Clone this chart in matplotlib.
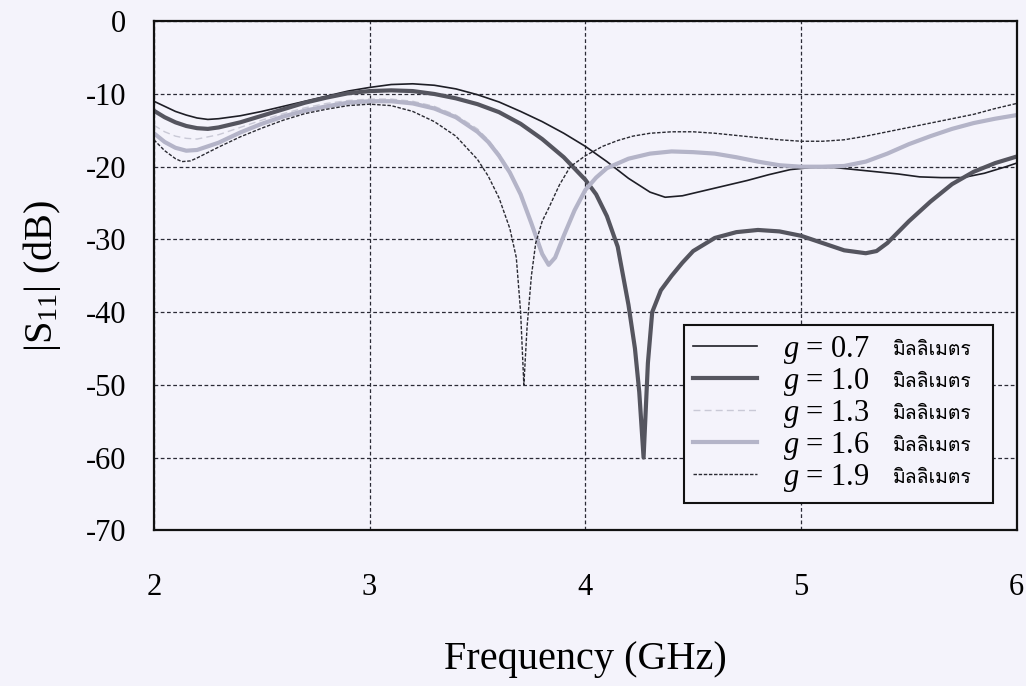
import matplotlib
matplotlib.use('Agg')
import matplotlib.pyplot as plt
from matplotlib import font_manager
from matplotlib.ft2font import FT2Font

# frequency (GHz) / |S11| (dB)
f_07 = [2.0, 2.05, 2.1, 2.15, 2.2, 2.25, 2.3, 2.4, 2.5, 2.6, 2.7, 2.8, 2.9, 3.0, 3.1, 3.2, 3.3, 3.4, 3.5, 3.6,
        3.7, 3.8, 3.9, 4.0, 4.1, 4.2, 4.3, 4.37, 4.45, 4.55, 4.65, 4.75, 4.85, 4.95, 5.05, 5.15, 5.25, 5.35,
        5.45, 5.55, 5.65, 5.75, 5.85, 5.95, 6.0]
s_07 = [-11.0, -11.7, -12.4, -12.9, -13.3, -13.5, -13.4, -13.0, -12.4, -11.7, -11.0, -10.3, -9.6, -9.1, -8.7,
        -8.6, -8.8, -9.3, -10.1, -11.1, -12.4, -13.8, -15.4, -17.2, -19.3, -21.6, -23.5, -24.2, -24.0, -23.3,
        -22.6, -21.9, -21.1, -20.4, -20.1, -20.1, -20.4, -20.7, -21.0, -21.4, -21.5, -21.5, -20.9, -20.0, -19.5]

f_10 = [2.0, 2.05, 2.1, 2.15, 2.2, 2.25, 2.3, 2.4, 2.5, 2.6, 2.7, 2.8, 2.9, 3.0, 3.1, 3.2, 3.3, 3.4, 3.5, 3.6,
        3.7, 3.8, 3.9, 4.0, 4.05, 4.1, 4.15, 4.2, 4.23, 4.25, 4.27, 4.29, 4.31, 4.35, 4.4, 4.45, 4.5, 4.6, 4.7,
        4.8, 4.9, 5.0, 5.1, 5.2, 5.3, 5.35, 5.4, 5.5, 5.6, 5.7, 5.8, 5.9, 6.0]
s_10 = [-12.3, -13.2, -13.9, -14.4, -14.7, -14.8, -14.6, -13.9, -13.0, -12.1, -11.2, -10.5, -9.9, -9.6, -9.5,
        -9.6, -10.0, -10.6, -11.4, -12.5, -14.1, -16.2, -18.7, -21.8, -23.8, -26.8, -31.0, -39.0, -45.0, -51.0,
        -60.0, -47.0, -40.0, -37.0, -35.0, -33.2, -31.6, -29.8, -29.0, -28.7, -28.9, -29.5, -30.5, -31.5, -31.9,
        -31.6, -30.5, -27.5, -24.8, -22.4, -20.7, -19.5, -18.6]

f_13 = [2.0, 2.05, 2.1, 2.15, 2.2, 2.3, 2.4, 2.5, 2.6, 2.7, 2.8, 2.9, 3.0, 3.1, 3.2, 3.3, 3.4, 3.5, 3.55, 3.6,
        3.65, 3.7, 3.75, 3.8, 3.83, 3.86, 3.9, 3.95, 4.0, 4.05, 4.1, 4.2, 4.3, 4.4, 4.5, 4.6, 4.7, 4.8, 4.9,
        5.0, 5.1, 5.2, 5.3, 5.4, 5.5, 5.6, 5.7, 5.8, 5.9, 6.0]
s_13 = [-14.3, -15.2, -15.8, -16.1, -16.2, -15.6, -14.6, -13.6, -12.7, -11.9, -11.3, -10.9, -10.7, -10.7, -11.0,
        -11.7, -12.9, -14.8, -16.3, -18.2, -20.6, -23.6, -27.6, -31.8, -33.3, -32.4, -29.4, -25.9, -23.1, -21.4,
        -20.1, -18.8, -18.1, -17.8, -17.9, -18.1, -18.6, -19.2, -19.7, -19.9, -19.9, -19.8, -19.2, -18.1, -16.8,
        -15.7, -14.7, -13.9, -13.3, -12.8]

f_16 = [2.0, 2.05, 2.1, 2.15, 2.2, 2.3, 2.4, 2.5, 2.6, 2.7, 2.8, 2.9, 3.0, 3.1, 3.2, 3.3, 3.4, 3.5, 3.55, 3.6,
        3.65, 3.7, 3.75, 3.8, 3.83, 3.86, 3.9, 3.95, 4.0, 4.05, 4.1, 4.2, 4.3, 4.4, 4.5, 4.6, 4.7, 4.8, 4.9,
        5.0, 5.1, 5.2, 5.3, 5.4, 5.5, 5.6, 5.7, 5.8, 5.9, 6.0]
s_16 = [-15.4, -16.6, -17.4, -17.8, -17.7, -16.7, -15.3, -14.1, -13.1, -12.3, -11.7, -11.2, -11.0, -11.0, -11.3,
        -12.0, -13.2, -15.2, -16.6, -18.5, -20.8, -23.8, -27.8, -32.0, -33.5, -32.5, -29.5, -26.0, -23.2, -21.5,
        -20.2, -18.9, -18.2, -17.9, -18.0, -18.2, -18.7, -19.3, -19.8, -20.0, -20.0, -19.9, -19.3, -18.2, -16.9,
        -15.8, -14.8, -14.0, -13.4, -12.9]

f_19 = [2.0, 2.05, 2.1, 2.13, 2.17, 2.2, 2.3, 2.4, 2.5, 2.6, 2.7, 2.8, 2.9, 3.0, 3.1, 3.2, 3.3, 3.4, 3.5, 3.55,
        3.6, 3.65, 3.68, 3.7, 3.715, 3.73, 3.75, 3.77, 3.8, 3.83, 3.88, 3.93, 4.0, 4.08, 4.15, 4.22, 4.3, 4.4,
        4.5, 4.6, 4.7, 4.8, 4.9, 5.0, 5.1, 5.2, 5.3, 5.4, 5.5, 5.6, 5.7, 5.8, 5.9, 6.0]
s_19 = [-16.3, -17.8, -18.9, -19.3, -19.2, -18.8, -17.3, -15.9, -14.7, -13.6, -12.7, -12.1, -11.6, -11.4, -11.6,
        -12.4, -13.8, -15.8, -19.0, -21.3, -24.3, -28.5, -32.5, -40.0, -50.0, -42.0, -35.0, -30.5, -27.5, -25.7,
        -22.5, -20.0, -18.5, -17.2, -16.4, -15.8, -15.4, -15.2, -15.2, -15.4, -15.7, -16.0, -16.3, -16.5, -16.5,
        -16.3, -15.8, -15.2, -14.6, -14.0, -13.4, -12.8, -12.0, -11.3]

gaps = ['0.7', '1.0', '1.3', '1.6', '1.9']
unit_th = 'มิลลิเมตร'


def find_thai_font():
    # look for any installed font that has Thai glyphs
    for entry in font_manager.fontManager.ttflist:
        try:
            if 0x0E21 in FT2Font(entry.fname).get_charmap():
                return entry.name
        except Exception:
            continue
    return 'DejaVu Sans'


thai_font = find_thai_font()

plt.rcParams['font.family'] = ['Liberation Serif', 'DejaVu Serif']
plt.rcParams['mathtext.fontset'] = 'custom'
plt.rcParams['mathtext.rm'] = 'Liberation Serif'
plt.rcParams['mathtext.it'] = 'Liberation Serif:italic'
plt.rcParams['axes.unicode_minus'] = False

bg = '#f4f3fb'
fig = plt.figure(figsize=(10.26, 6.86), dpi=100, facecolor=bg)
ax = fig.add_axes([0.150, 0.227, 0.841, 0.742], facecolor=bg)

ax.plot(f_07, s_07, color='#1e1e26', lw=1.2)
ax.plot(f_10, s_10, color='#55555f', lw=3.0)
ax.plot(f_13, s_13, color='#c9c9d6', lw=1.0, dashes=(5, 3))
ax.plot(f_16, s_16, color='#b4b4c8', lw=3.0)
ax.plot(f_19, s_19, color='#2a2a32', lw=1.0, dashes=(2.5, 1.2))

ax.set_xlim(2, 6)
ax.set_ylim(-70, 0)
ax.set_xticks([2, 3, 4, 5, 6])
ax.set_yticks(range(-70, 1, 10))
ax.tick_params(length=0, labelsize=22)
ax.tick_params(axis='x', pad=31)
ax.tick_params(axis='y', pad=20)
ax.grid(True, color='#2a2a35', lw=0.9, dashes=(3, 2))
for sp in ax.spines.values():
    sp.set_linewidth(1.6)
    sp.set_color('#111')

ax.set_xlabel('Frequency (GHz)', fontsize=29, labelpad=28)
ax.set_ylabel(r'|S$_{11}$| (dB)', fontsize=29, labelpad=16)

labels = ['$g$ = ' + v for v in gaps]
# expand mode stretches the box to the given width, leaving room for the Thai unit
leg = ax.legend(ax.get_lines(), labels, loc='lower left', bbox_to_anchor=(0.614, 0.053, 0.358, 0.3),
                mode='expand', borderaxespad=0, fontsize=22, frameon=True, fancybox=False, framealpha=1,
                facecolor=bg, edgecolor='#111', handlelength=2.1, handletextpad=0.85,
                labelspacing=0.0, borderpad=0.3)
leg.get_frame().set_linewidth(1.5)

for t in leg.get_texts():
    ax.annotate(unit_th, xy=(0, 0.5), xycoords=t, xytext=(79, 0), textcoords='offset points',
                va='center', ha='left', fontsize=14, family=[thai_font, 'DejaVu Sans'], zorder=10)

fig.savefig('out.png', dpi=100, facecolor=bg)
